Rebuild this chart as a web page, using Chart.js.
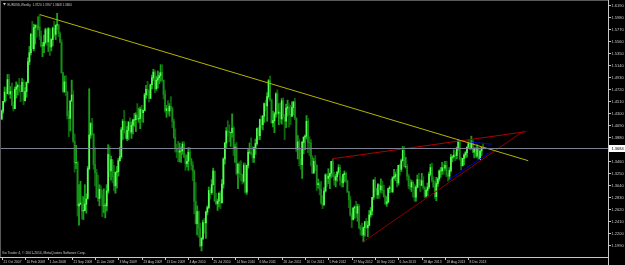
<!DOCTYPE html>
<html>
<head>
<meta charset="utf-8">
<script src="https://cdn.jsdelivr.net/npm/chart.js@4.4.0/dist/chart.umd.min.js"></script>
<style>
  html, body { margin: 0; padding: 0; background: #000; }
  canvas { display: block; }
</style>
</head>
<body>
<canvas id="chart" width="625" height="265"></canvas>
<script>
// EURUSD weekly bars, bar 0 = week of 21 Oct 2007
const weekHigh = [
  1.435,1.450,1.475,1.474,1.497,1.497,1.476,1.482,1.449,1.475,
  1.484,1.480,1.490,1.478,1.490,1.488,1.474,1.484,1.526,1.546,
  1.569,1.590,1.585,1.584,1.584,1.598,1.602,1.573,1.553,1.566,
  1.578,1.577,1.579,1.560,1.560,1.580,1.590,1.584,1.604,1.584,
  1.571,1.558,1.500,1.494,1.495,1.467,1.433,1.452,1.487,1.469,
  1.393,1.373,1.345,1.304,1.310,1.284,1.283,1.304,1.288,1.336,
  1.472,1.413,1.420,1.394,1.369,1.331,1.321,1.304,1.302,1.294,
  1.297,1.271,1.304,1.374,1.371,1.354,1.343,1.338,1.326,1.336,
  1.350,1.370,1.404,1.418,1.434,1.415,1.406,1.415,1.421,1.414,
  1.419,1.429,1.430,1.446,1.438,1.440,1.443,1.435,1.464,1.478,
  1.485,1.470,1.480,1.496,1.506,1.504,1.494,1.503,1.500,1.514,
  1.514,1.487,1.469,1.443,1.451,1.446,1.458,1.440,1.419,1.402,
  1.375,1.380,1.377,1.370,1.379,1.379,1.358,1.356,1.369,1.369,
  1.350,1.344,1.330,1.308,1.267,1.258,1.237,1.212,1.242,1.245,
  1.258,1.267,1.300,1.298,1.313,1.333,1.327,1.289,1.279,1.290,
  1.293,1.313,1.351,1.378,1.404,1.416,1.409,1.396,1.428,1.406,
  1.375,1.378,1.341,1.344,1.346,1.321,1.342,1.342,1.338,1.366,
  1.377,1.386,1.371,1.370,1.384,1.403,1.405,1.419,1.425,1.425,
  1.447,1.452,1.465,1.488,1.494,1.454,1.433,1.431,1.465,1.470,
  1.446,1.447,1.455,1.456,1.427,1.445,1.452,1.446,1.443,1.449,
  1.449,1.455,1.420,1.390,1.384,1.368,1.380,1.388,1.391,1.425,
  1.420,1.388,1.383,1.355,1.350,1.355,1.339,1.314,1.309,1.310,
  1.285,1.299,1.323,1.323,1.332,1.324,1.345,1.349,1.326,1.322,
  1.327,1.339,1.338,1.318,1.322,1.328,1.326,1.312,1.292,1.284,
  1.255,1.264,1.267,1.275,1.270,1.269,1.233,1.237,1.230,1.240,
  1.245,1.240,1.259,1.264,1.282,1.313,1.317,1.298,1.306,1.304,
  1.314,1.310,1.303,1.286,1.283,1.298,1.302,1.313,1.318,1.331,
  1.326,1.331,1.338,1.340,1.349,1.371,1.371,1.352,1.340,1.322,
  1.314,1.312,1.310,1.305,1.302,1.321,1.324,1.313,1.324,1.318,
  1.301,1.297,1.307,1.326,1.340,1.342,1.318,1.310,1.317,1.316,
  1.330,1.334,1.343,1.340,1.345,1.345,1.323,1.334,1.357,1.355,
  1.365,1.361,1.370,1.383,1.381,1.352,1.350,1.358,1.362,1.370,
  1.381,1.381,1.389,1.382,1.369,1.370,1.374,1.370,1.364,1.369,
  1.377
];
const weekLow = [
  1.418,1.429,1.448,1.451,1.465,1.461,1.455,1.443,1.433,1.437,
  1.456,1.461,1.465,1.449,1.468,1.444,1.450,1.457,1.482,1.514,
  1.531,1.546,1.538,1.550,1.562,1.575,1.558,1.545,1.528,1.535,
  1.550,1.548,1.537,1.530,1.538,1.547,1.563,1.558,1.576,1.563,
  1.553,1.499,1.466,1.465,1.460,1.419,1.388,1.398,1.453,1.378,
  1.326,1.332,1.249,1.233,1.269,1.244,1.243,1.258,1.254,1.283,
  1.330,1.385,1.389,1.331,1.302,1.282,1.275,1.267,1.280,1.248,
  1.255,1.246,1.258,1.289,1.318,1.312,1.307,1.293,1.289,1.298,
  1.319,1.345,1.350,1.383,1.394,1.384,1.381,1.383,1.393,1.385,
  1.393,1.406,1.397,1.417,1.413,1.402,1.414,1.413,1.433,1.455,
  1.460,1.449,1.455,1.472,1.486,1.465,1.469,1.473,1.481,1.485,
  1.484,1.454,1.431,1.422,1.428,1.424,1.433,1.404,1.385,1.361,
  1.351,1.344,1.344,1.343,1.357,1.351,1.329,1.335,1.329,1.347,
  1.330,1.311,1.253,1.235,1.216,1.212,1.195,1.188,1.208,1.219,
  1.210,1.251,1.262,1.279,1.287,1.303,1.274,1.269,1.259,1.265,
  1.262,1.272,1.298,1.340,1.367,1.389,1.379,1.371,1.387,1.355,
  1.343,1.321,1.297,1.316,1.311,1.305,1.307,1.289,1.287,1.333,
  1.358,1.356,1.343,1.343,1.357,1.373,1.383,1.383,1.403,1.400,
  1.413,1.433,1.415,1.455,1.450,1.412,1.405,1.395,1.422,1.427,
  1.409,1.412,1.410,1.423,1.383,1.404,1.424,1.405,1.409,1.423,
  1.426,1.418,1.362,1.349,1.337,1.331,1.315,1.358,1.365,1.384,
  1.360,1.355,1.337,1.324,1.326,1.329,1.294,1.298,1.286,1.270,
  1.262,1.270,1.291,1.301,1.306,1.297,1.316,1.318,1.303,1.300,
  1.310,1.322,1.303,1.300,1.300,1.309,1.308,1.290,1.264,1.249,
  1.229,1.242,1.245,1.247,1.240,1.227,1.216,1.215,1.204,1.214,
  1.227,1.213,1.232,1.247,1.251,1.278,1.292,1.280,1.280,1.280,
  1.290,1.288,1.282,1.269,1.266,1.272,1.290,1.291,1.290,1.314,
  1.311,1.300,1.303,1.321,1.327,1.345,1.335,1.333,1.312,1.297,
  1.295,1.292,1.282,1.275,1.275,1.298,1.299,1.292,1.302,1.296,
  1.281,1.282,1.285,1.297,1.319,1.309,1.299,1.280,1.276,1.301,
  1.310,1.317,1.322,1.322,1.329,1.318,1.310,1.313,1.326,1.344,
  1.350,1.346,1.349,1.364,1.347,1.330,1.337,1.339,1.351,1.352,
  1.368,1.365,1.366,1.360,1.351,1.352,1.351,1.348,1.348,1.355,
  1.366
];
const weekClose = [
  1.433,1.450,1.466,1.463,1.488,1.463,1.467,1.443,1.437,1.471,
  1.475,1.478,1.468,1.467,1.483,1.451,1.467,1.483,1.519,1.535,
  1.567,1.542,1.579,1.583,1.580,1.580,1.564,1.547,1.547,1.553,
  1.575,1.554,1.577,1.545,1.558,1.578,1.567,1.583,1.584,1.568,
  1.553,1.500,1.467,1.484,1.467,1.425,1.420,1.450,1.461,1.380,
  1.342,1.343,1.267,1.270,1.272,1.258,1.259,1.270,1.279,1.332,
  1.391,1.411,1.392,1.339,1.325,1.282,1.280,1.296,1.285,1.267,
  1.267,1.267,1.293,1.357,1.328,1.348,1.318,1.302,1.326,1.327,
  1.346,1.353,1.400,1.415,1.395,1.385,1.399,1.413,1.396,1.408,
  1.417,1.418,1.426,1.419,1.420,1.436,1.430,1.434,1.461,1.471,
  1.468,1.455,1.479,1.491,1.501,1.472,1.487,1.491,1.495,1.500,
  1.487,1.462,1.434,1.437,1.433,1.441,1.437,1.415,1.387,1.367,
  1.362,1.361,1.363,1.363,1.375,1.353,1.341,1.345,1.361,1.349,
  1.338,1.328,1.275,1.236,1.257,1.228,1.197,1.210,1.238,1.237,
  1.256,1.264,1.294,1.290,1.304,1.328,1.276,1.271,1.275,1.289,
  1.272,1.305,1.349,1.377,1.398,1.397,1.395,1.395,1.403,1.368,
  1.370,1.324,1.340,1.323,1.322,1.310,1.338,1.291,1.338,1.361,
  1.361,1.358,1.351,1.369,1.376,1.402,1.390,1.418,1.409,1.424,
  1.446,1.442,1.458,1.486,1.452,1.412,1.416,1.428,1.463,1.429,
  1.431,1.419,1.451,1.422,1.415,1.438,1.440,1.427,1.424,1.439,
  1.449,1.421,1.366,1.379,1.349,1.339,1.378,1.387,1.389,1.415,
  1.378,1.377,1.352,1.324,1.345,1.338,1.304,1.306,1.296,1.272,
  1.268,1.293,1.321,1.315,1.319,1.324,1.345,1.319,1.312,1.318,
  1.326,1.334,1.312,1.307,1.322,1.324,1.311,1.292,1.278,1.251,
  1.243,1.263,1.265,1.254,1.266,1.229,1.225,1.216,1.229,1.239,
  1.229,1.233,1.251,1.258,1.282,1.312,1.297,1.286,1.304,1.295,
  1.302,1.294,1.283,1.271,1.274,1.297,1.299,1.292,1.316,1.318,
  1.322,1.307,1.338,1.331,1.346,1.364,1.336,1.336,1.319,1.302,
  1.300,1.308,1.299,1.282,1.300,1.313,1.305,1.303,1.311,1.299,
  1.284,1.294,1.300,1.322,1.334,1.312,1.301,1.283,1.306,1.314,
  1.328,1.328,1.334,1.333,1.338,1.321,1.319,1.329,1.352,1.353,
  1.356,1.355,1.368,1.380,1.349,1.337,1.350,1.356,1.360,1.370,
  1.376,1.368,1.380,1.361,1.367,1.354,1.368,1.348,1.363,1.369,
  1.368
];
const firstOpen = 1.419;

// time axis labels, one every 16 bars
const dateLabels = [
  '21 Oct 2007','10 Feb 2008','1 Jun 2008','21 Sep 2008','11 Jan 2009','3 May 2009',
  '23 Aug 2009','13 Dec 2009','4 Apr 2010','25 Jul 2010','14 Nov 2010','6 Mar 2011',
  '26 Jun 2011','16 Oct 2011','5 Feb 2012','27 May 2012','16 Sep 2012','6 Jan 2013',
  '28 Apr 2013','18 Aug 2013','8 Dec 2013'
];
const dateTickBars = [0,16,32,48,64,80,96,112,128,144,160,176,192,208,224,240,256,272,288,304,320];

// price scale labels
const priceLabels = [
  '1.6190','1.5980','1.5770','1.5560','1.5350','1.5140','1.4930','1.4720','1.4510','1.4300',
  '1.4090','1.3880','1.3670','1.3460','1.3250','1.3040','1.2830','1.2620','1.2410','1.2200','1.1990'
];
const lastPrice = 1.3684;
const lastPriceLabel = '1.3684';
const titleText = 'EURUSD,Weekly  1.3720 1.3767 1.3668 1.3684';
const footerText = 'Go Trader 4, \u00a9 2001-2014, MetaQuotes Software Corp.';

// drawn trend lines as [bar, price]
const yellowLine = [[26.3, 1.6015], [361.0, 1.3460]];
const redSupport = [[248.0, 1.2043], [357.7, 1.3978]];
const redUpper = [[227.0, 1.3495], [359.6, 1.3968]];
const blueTop = [[313.1, 1.3810], [336.0, 1.3747]];
const blueBottom = [[307.0, 1.3135], [336.0, 1.3626]];

const xMin = -1.17, xMax = 415.7;
const yMin = 1.17747, yMax = 1.62373;

const opens = weekClose.map((c, i) => i === 0 ? firstOpen : weekClose[i - 1]);
const wickData = weekHigh.map((h, i) => ({ x: i, y: [weekLow[i], h] }));
const bodyData = weekClose.map((c, i) => ({ x: i, y: [opens[i], c] }));
const wickColors = weekClose.map((c, i) => c >= opens[i] ? '#18a018' : '#0b660b');
const bodyColors = weekClose.map((c, i) => c >= opens[i] ? '#55ff55' : '#1c8c1c');

function lineSet(pts, color) {
    return {
        type: 'line',
        data: pts.map(p => ({ x: p[0], y: p[1] })),
        borderColor: color,
        borderWidth: 1,
        pointRadius: 0,
        fill: false,
        order: 0
    };
}

const mtFrame = {
    id: 'mtFrame',
    beforeDraw(chart) {
        const ctx = chart.ctx;
        ctx.save();
        ctx.fillStyle = '#000';
        ctx.fillRect(0, 0, chart.width, chart.height);
        ctx.restore();
    },
    afterDatasetsDraw(chart) {
        const { ctx, chartArea: a, scales: { y } } = chart;
        ctx.save();
        // current price line
        const py = Math.round(y.getPixelForValue(lastPrice)) + 0.5;
        ctx.strokeStyle = '#7c8494';
        ctx.lineWidth = 1;
        ctx.beginPath();
        ctx.moveTo(a.left, py);
        ctx.lineTo(a.right, py);
        ctx.stroke();
        ctx.restore();
    },
    afterDraw(chart) {
        const { ctx, chartArea: a, scales: { x, y } } = chart;
        ctx.save();
        ctx.lineWidth = 1;
        // frame
        ctx.strokeStyle = '#5a5a5a';
        ctx.beginPath();
        ctx.moveTo(0.5, 0); ctx.lineTo(0.5, a.bottom);
        ctx.moveTo(0, 0.5); ctx.lineTo(a.right, 0.5);
        ctx.stroke();
        ctx.strokeStyle = '#c8c8c8';
        ctx.beginPath();
        ctx.moveTo(a.right + 0.5, 0); ctx.lineTo(a.right + 0.5, chart.height);
        ctx.moveTo(0, a.bottom + 0.5); ctx.lineTo(a.right, a.bottom + 0.5);
        ctx.stroke();

        // price scale
        ctx.fillStyle = '#c8c8c8';
        ctx.font = '4px "Liberation Sans"';
        ctx.textAlign = 'left';
        ctx.textBaseline = 'middle';
        priceLabels.forEach(lbl => {
            const ty = Math.round(y.getPixelForValue(parseFloat(lbl))) + 0.5;
            if (Math.abs(ty - y.getPixelForValue(lastPrice)) < 5) return;
            ctx.beginPath();
            ctx.moveTo(a.right, ty); ctx.lineTo(a.right + 3, ty);
            ctx.stroke();
            ctx.fillText(lbl, a.right + 3.5, ty);
        });

        // last price box
        const py = Math.round(y.getPixelForValue(lastPrice));
        ctx.fillStyle = '#ffffff';
        ctx.fillRect(a.right + 1, py - 3, chart.width - a.right - 1, 7);
        ctx.fillStyle = '#000000';
        ctx.fillText(lastPriceLabel, a.right + 3.5, py + 0.5);

        // time scale
        ctx.fillStyle = '#c8c8c8';
        ctx.font = '3.3px "Liberation Sans"';
        ctx.textBaseline = 'alphabetic';
        dateTickBars.forEach((b, k) => {
            const tx = Math.round(x.getPixelForValue(b)) + 0.5;
            ctx.beginPath();
            ctx.moveTo(tx, a.bottom); ctx.lineTo(tx, a.bottom + 3);
            ctx.stroke();
            ctx.fillText(dateLabels[k], tx + 1, a.bottom + 6);
        });

        // title and footer
        ctx.font = '3px "Liberation Sans"';
        ctx.beginPath();
        ctx.moveTo(3, 3); ctx.lineTo(6, 3); ctx.lineTo(4.5, 5.5);
        ctx.closePath();
        ctx.fill();
        ctx.fillText(titleText, 7.5, 5.5);
        ctx.font = '3.4px "Liberation Sans"';
        ctx.fillText(footerText, 2, a.bottom - 3);
        ctx.restore();
    }
};

new Chart(document.getElementById('chart'), {
    type: 'bar',
    data: {
        datasets: [
            lineSet(yellowLine, '#b4b400'),
            lineSet(redSupport, '#8c0000'),
            lineSet(redUpper, '#b00000'),
            lineSet(blueTop, '#0000c8'),
            lineSet(blueBottom, '#0000c8'),
            {
                data: bodyData,
                backgroundColor: bodyColors,
                barThickness: 1,
                grouped: false,
                order: 1
            },
            {
                data: wickData,
                backgroundColor: wickColors,
                barThickness: 1.2,
                grouped: false,
                order: 2
            }
        ]
    },
    options: {
        responsive: false,
        animation: false,
        devicePixelRatio: 1,
        layout: { padding: { left: 0, right: 17, top: 2, bottom: 8 } },
        plugins: { legend: { display: false }, tooltip: { enabled: false } },
        scales: {
            x: { type: 'linear', display: false, min: xMin, max: xMax, offset: false },
            y: { display: false, min: yMin, max: yMax }
        }
    },
    plugins: [mtFrame]
});
</script>
</body>
</html>
